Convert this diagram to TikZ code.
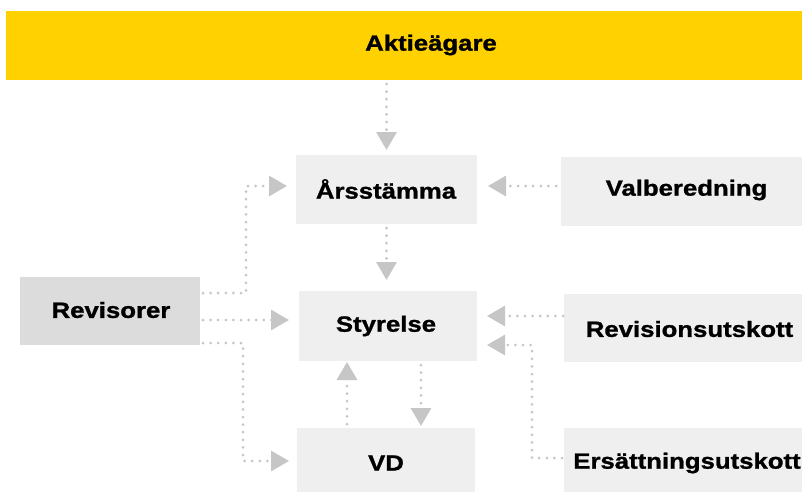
\documentclass[tikz,border=0pt]{standalone}
\usepackage{fontspec}
\setmainfont[FakeStretch=1.17, BoldFeatures={FakeBold=1.2}]{Liberation Sans}
\usetikzlibrary{arrows.meta}
\definecolor{ybar}{HTML}{FFD100}
\definecolor{boxgray}{HTML}{EFEFEF}
\definecolor{revgray}{HTML}{DCDCDC}
\definecolor{lgray}{HTML}{C6C6C6}
\tikzset{
  box/.style={fill=boxgray, inner sep=0pt, outer sep=0pt},
  lbl/.style={font=\bfseries\fontsize{22}{24}\selectfont, text=black, inner sep=0pt},
  conn/.style={draw=lgray, line width=3pt, line cap=round, dash pattern=on 0pt off 7.6pt,
    -{Triangle[width=20pt,length=18pt,fill=lgray,line cap=butt]}}
}
\begin{document}
\begin{tikzpicture}[x=1pt,y=-1pt]
\clip (0,0) rectangle (802,491);
\fill[white] (0,0) rectangle (802,491);
% boxes
\node[box, fill=ybar, minimum width=806pt, minimum height=69pt] (akt) at (409,45.5) {};
\node[lbl] (aktt) at (431,45) {Aktieägare};
\node[box, minimum width=181pt, minimum height=69pt] (ars) at (386.5,189.5) {};
\node[lbl] (arst) at (386,189) {Årsstämma};
\node[box, minimum width=251pt, minimum height=69pt] (val) at (686.5,191.5) {};
\node[lbl] (valt) at (686.5,190) {Valberedning};
\node[box, minimum width=178pt, minimum height=70pt] (sty) at (388,326) {};
\node[lbl] (styt) at (386,326) {Styrelse};
\node[box, fill=revgray, minimum width=180pt, minimum height=68pt] (rev) at (110,311) {};
\node[lbl] (revt) at (111,310) {Revisorer};
\node[box, minimum width=248pt, minimum height=68pt] (rvu) at (688,328) {};
\node[lbl] (rvut) at (689.5,329) {Revisionsutskott};
\node[box, minimum width=178pt, minimum height=64pt] (vd) at (386,460) {};
\node[lbl] (vdt) at (386,463) {VD};
\node[box, minimum width=248pt, minimum height=64pt] (ers) at (688,460) {};
\node[lbl] (erst) at (687,463) {Ersättningsutskott};
% connectors
\draw[conn, shorten <=4pt, shorten >=5pt] (akt.south -| ars.north) -- (ars.north);
\draw[conn, shorten <=4pt, shorten >=11pt] (ars.south) -- (ars.south |- sty.north);
\draw[conn, shorten <=5pt, shorten >=11pt] (val.west |- 0,186) -- (ars.east |- 0,186);
\draw[conn, shorten <=3pt, shorten >=9pt] (rev.east |- 0,293) -| (246,240) |- (ars.west |- 0,186);
\draw[conn, shorten <=3pt, shorten >=10pt] (rev.east |- 0,320) -- (sty.west |- 0,320);
\draw[conn, shorten <=3pt, shorten >=8pt] (rev.east |- 0,343) -| (243,400) |- (vd.west |- 0,461);
\draw[conn, shorten <=4pt, shorten >=1pt] (vd.north -| 347,0) -- (sty.south -| 347,0);
\draw[conn, shorten <=4pt, shorten >=2pt] (sty.south -| 421,0) -- (vd.north -| 421,0);
\draw[conn, shorten <=1pt, shorten >=10pt] (rvu.west |- 0,316) -- (sty.east |- 0,316);
\draw[conn, shorten <=2pt, shorten >=10pt] (ers.west |- 0,458) -| (532,400) |- (sty.east |- 0,345);
\end{tikzpicture}
\end{document}
